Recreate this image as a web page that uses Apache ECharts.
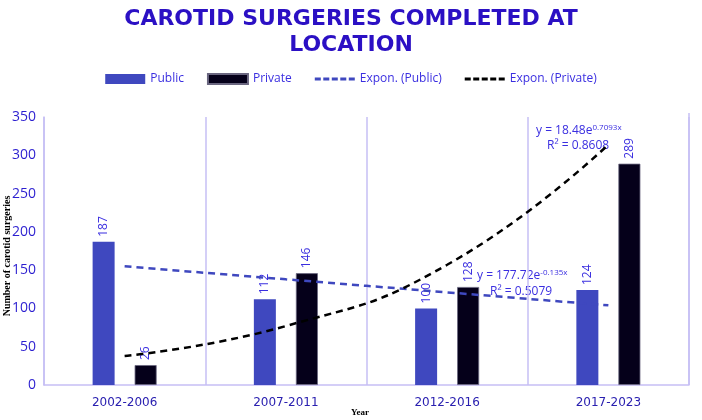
<!DOCTYPE html>
<html>
<head>
<meta charset="utf-8">
<script src="https://cdn.jsdelivr.net/npm/echarts@6/dist/echarts.min.js"></script>
<style>html,body{margin:0;padding:0;background:#fff;}#c{width:702px;height:420px;}</style>
</head>
<body>
<div id="c"></div>
<script>
var categories = ['2002-2006', '2007-2011', '2012-2016', '2017-2023'];
var publicValues = [187, 112, 100, 124];
var privateValues = [26, 146, 128, 289];
// trend line values at each category
var exponPublic = [155, 138, 121, 104];
var exponPrivate = [38, 77, 157, 314];
var yTicks = [0, 50, 100, 150, 200, 250, 300, 350];

var blue = '#3f48bf';
var navy = '#05001a';
var textBlue = '#3a2ee0';
var dashIcon = 'path://M0,3.5h6v3h-6z M8.5,3.5h6v3h-6z M17,3.5h6v3h-6z M25.5,3.5h6v3h-6z M34,3.5h6v3h-6z M0,0h0.01v0.01h-0.01z M39.99,9.99h0.01v0.01h-0.01z';

var chart = echarts.init(document.getElementById('c'));
chart.setOption({
  animation: false,
  title: {
    text: 'CAROTID SURGERIES COMPLETED AT\nLOCATION',
    left: 'center',
    top: 6,
    padding: 0,
    textStyle: {fontFamily: 'DejaVu Sans', fontWeight: 'bold', fontSize: 22, lineHeight: 26, color: '#2b10c4'}
  },
  legend: {
    top: 68,
    left: 'center',
    itemWidth: 40,
    itemHeight: 10,
    itemGap: 23,
    textStyle: {fontFamily: 'Open Sans', fontSize: 12, color: textBlue},
    data: [
      {name: 'Public', icon: 'rect'},
      {name: 'Private', icon: 'rect'},
      {name: 'Expon. (Public)', icon: dashIcon, itemStyle: {color: blue}},
      {name: 'Expon. (Private)', icon: dashIcon, itemStyle: {color: '#000'}}
    ]
  },
  grid: {left: 44, right: 13, top: 117, bottom: 35, outerBoundsMode: 'none', containLabel: false},
  xAxis: {
    type: 'category',
    data: categories,
    axisLine: {lineStyle: {color: '#c6bff5', width: 1.5}},
    axisTick: {show: false},
    axisLabel: {fontFamily: 'DejaVu Sans', fontSize: 12, color: '#2a20b0', margin: 12},
    splitLine: {show: true, lineStyle: {color: '#c6bff5', width: 1.5}}
  },
  yAxis: {
    type: 'value',
    min: yTicks[0],
    max: yTicks[yTicks.length - 1],
    interval: 50,
    axisLine: {show: true, lineStyle: {color: '#c6bff5', width: 1.5}},
    axisTick: {show: false},
    splitLine: {show: false},
    axisLabel: {fontFamily: 'Open Sans', fontSize: 14, color: '#2c1fd0', margin: 8}
  },
  graphic: [
    {type: 'line', shape: {x1: 689, y1: 113, x2: 689, y2: 385}, style: {stroke: '#c6bff5', lineWidth: 1.5}, z: 0},
    {type: 'text', x: 7, y: 256, rotation: Math.PI / 2, style: {
      text: 'Number of carotid surgeries', fontFamily: 'Liberation Serif', fontWeight: 'bold', fontSize: 10,
      fill: '#000', align: 'center', verticalAlign: 'middle'}},
    {type: 'text', x: 360, y: 413, style: {
      text: 'Year', fontFamily: 'Liberation Serif', fontWeight: 'bold', fontSize: 9,
      fill: '#000', align: 'center', verticalAlign: 'middle'}},
    {type: 'text', left: 536, top: 124, style: {
      text: '{a|y = 18.48e}{s|0.7093x}', rich: {
        a: {fontFamily: 'Open Sans', fontSize: 12, fill: textBlue},
        s: {fontFamily: 'Open Sans', fontSize: 8, fill: textBlue, verticalAlign: 'top', padding: [0, 0, 6, 0]}
      }}},
    {type: 'text', left: 547, top: 140, style: {text: 'R² = 0.8608', fontFamily: 'Open Sans', fontSize: 12, fill: textBlue}},
    {type: 'text', left: 477, top: 269, style: {
      text: '{a|y = 177.72e}{s|-0.135x}', rich: {
        a: {fontFamily: 'Open Sans', fontSize: 12, fill: textBlue},
        s: {fontFamily: 'Open Sans', fontSize: 8, fill: textBlue, verticalAlign: 'top', padding: [0, 0, 6, 0]}
      }}},
    {type: 'text', left: 490, top: 286, style: {text: 'R² = 0.5079', fontFamily: 'Open Sans', fontSize: 12, fill: textBlue}}
  ],
  series: [
    {
      name: 'Public', type: 'bar', data: publicValues, barWidth: 22, barGap: '91%',
      itemStyle: {color: blue},
      label: {show: true, position: 'top', rotate: 90, align: 'left', verticalAlign: 'middle', distance: 5,
        fontFamily: 'Open Sans', fontSize: 12, color: textBlue}
    },
    {
      name: 'Private', type: 'bar', data: privateValues, barWidth: 22,
      itemStyle: {color: navy, borderColor: '#6a6680', borderWidth: 0.8},
      label: {show: true, position: 'top', rotate: 90, align: 'left', verticalAlign: 'middle', distance: 5,
        fontFamily: 'Open Sans', fontSize: 12, color: textBlue}
    },
    {
      name: 'Expon. (Public)', type: 'line', data: exponPublic, smooth: true, symbol: 'none',
      lineStyle: {color: blue, width: 2.5, type: [7, 5]}, itemStyle: {color: blue}, z: 5
    },
    {
      name: 'Expon. (Private)', type: 'line', data: exponPrivate, smooth: true, symbol: 'none',
      lineStyle: {color: '#000', width: 2.5, type: [7, 5]}, itemStyle: {color: '#000'}, z: 5
    }
  ]
});
</script>
</body>
</html>
